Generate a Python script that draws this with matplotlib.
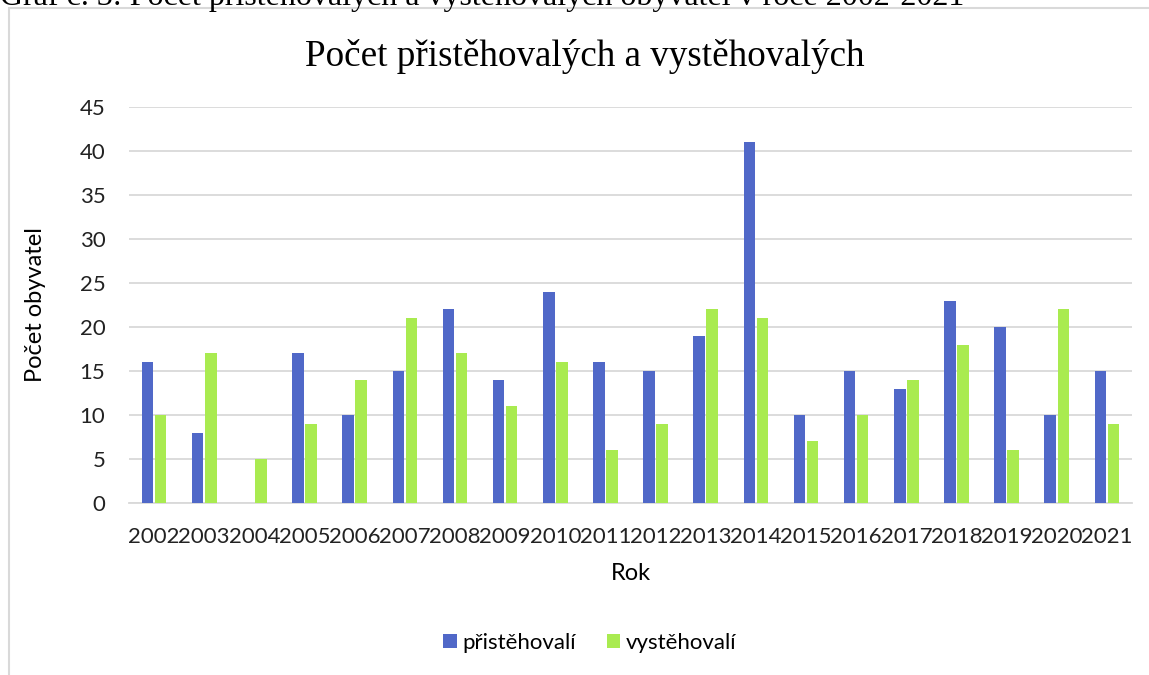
import matplotlib.pyplot as plt
import numpy as np
from matplotlib.patches import Rectangle

roky = [str(r) for r in range(2002, 2022)]
pristehovali = [16, 8, 0, 17, 10, 15, 22, 14, 24, 16, 15, 19, 41, 10, 15, 13, 23, 20, 10, 15]
vystehovali = [10, 17, 5, 9, 14, 21, 17, 11, 16, 6, 9, 22, 21, 7, 10, 14, 18, 6, 22, 9]
yticks = np.arange(0, 46, 5)

plt.rcParams['font.family'] = ['Lato', 'DejaVu Sans']

fig = plt.figure(figsize=(11.49, 6.75), dpi=100)
ax = fig.add_axes([129 / 1149, 1 - 503 / 675, (1132 - 129) / 1149, (503 - 107) / 675])

# chart frame
fig.patches.append(Rectangle((9 / 1149, -0.1), 1.2, 1 - 8 / 675 + 0.1, transform=fig.transFigure,
                             fill=False, edgecolor='#d9d9d9', linewidth=1.5))

# caption cut off at the top
fig.text(0.0, 1 - 5 / 675, 'Graf č. 3: Počet přistěhovalých a vystěhovalých obyvatel v roce 2002-2021',
         family='Liberation Serif', fontsize=23, ha='left', va='baseline')

x = np.arange(len(roky))
w = 0.23
ax.bar(x - 0.13, pristehovali, w, color='#5068c8', label='přistěhovalí', zorder=3)
ax.bar(x + 0.13, vystehovali, w, color='#a9eb50', label='vystěhovalí', zorder=3)

ax.set_xlim(-0.5, len(roky) - 0.5)
ax.set_ylim(0, 45)
ax.set_yticks(yticks)
ax.set_xticks(x)
ax.set_xticklabels(roky)
ax.tick_params(axis='both', length=0, labelsize=16, colors='#222222')
ax.tick_params(axis='x', pad=17)
ax.tick_params(axis='y', pad=17)
ax.grid(axis='y', color='#d9d9d9', linewidth=1.3, zorder=0)
for s in ['top', 'right', 'left']:
    ax.spines[s].set_visible(False)
ax.spines['bottom'].set_color('#d9d9d9')
ax.spines['bottom'].set_linewidth(1.3)

ax.set_xlabel('Rok', fontsize=17, labelpad=12)
ax.set_ylabel('Počet obyvatel', fontsize=17, labelpad=24)

fig.text(585 / 1149, 1 - 57 / 675, 'Počet přistěhovalých a vystěhovalých',
         family='Liberation Serif', fontsize=26.7, ha='center', va='center')

fig.legend(loc='center', bbox_to_anchor=(590 / 1149, 1 - 643 / 675), ncol=2, frameon=False,
           fontsize=16, handlelength=0.6, handleheight=0.6, columnspacing=1.4, handletextpad=0.25)

fig.savefig('out.png', dpi=100)
